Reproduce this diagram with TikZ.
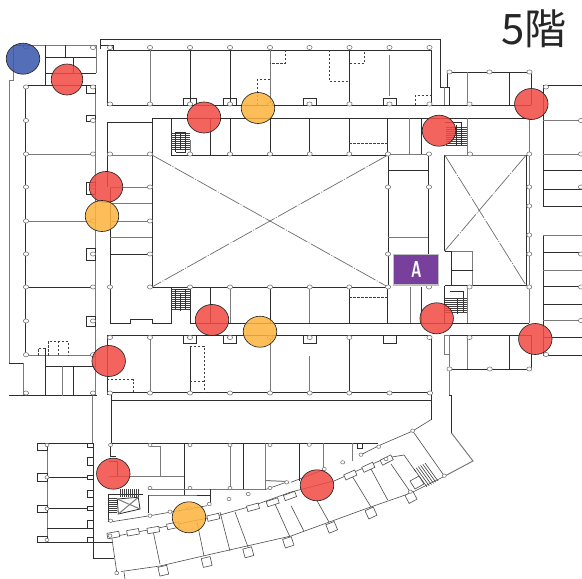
\documentclass[tikz,border=0pt]{standalone}
\usepackage{fontspec}
\usepackage[dvipsnames]{xcolor}
\usetikzlibrary{shapes.geometric}
\newfontfamily\cjk{Noto Sans CJK JP}
\definecolor{redspot}{HTML}{F04A42}
\definecolor{bluespot}{HTML}{3857AB}
\definecolor{orangespot}{HTML}{FDB33E}
\definecolor{roomA}{HTML}{783F9C}
\tikzset{
    wall/.style={line width=.8pt,draw=black!82},
    partition/.style={line width=1pt,draw=black!52},
    hidden/.style={line width=.65pt,draw=black!75,dash pattern=on 2.4pt off 1.6pt},
    void/.style={line width=.7pt,draw=black!58,dash pattern=on 22pt off 1.5pt on 1pt off 1.5pt},
    thin wall/.style={line width=.6pt,draw=black!70},
    tread/.style={line width=.6pt,draw=black!75},
    column/.style={line width=.55pt,draw=black!55,fill=white},
    spot/.style={ellipse,draw=black!85,line width=.65pt,inner sep=0pt,minimum width=33.5pt,minimum height=31pt,fill opacity=.86},
    pilaster/.style={rectangle,draw=black!70,line width=.6pt,fill=white,inner sep=0pt}
}
\begin{document}
\begin{tikzpicture}[x=1pt,y=-1pt]
    \useasboundingbox (0,0) rectangle (582,579);

    % north block
    \draw[wall] (100,49) -- (100,39.5) -- (440,39.5) -- (440,87) -- (449,87) -- (449,105);
    \draw[partition] (444.5,87) -- (444.5,105);
    \draw[wall] (100,45) -- (113,45) -- (113,50);
    \draw[wall] (431,105) -- (431,50) -- (107,50) -- (107,105) -- (531,105);
    \foreach \x in {190,230,349.5}
        \draw[wall] (\x,50) -- (\x,105);
    \foreach \x in {150,270}
        \draw[partition] (\x,50) -- (\x,105);
    \draw[partition] (389.5,55) -- (389.5,96);
    \foreach \x in {183.5,223.5,303.5,383.5}
        \draw[wall] (\x,105) rectangle (\x+13,98.5);
    \draw[hidden] (285,50) -- (285,63.5) -- (270,63.5);
    \draw[hidden] (270,79.5) -- (257,79.5) -- (257,105);
    \draw[hidden] (329.5,50) -- (329.5,81.5) -- (349.5,81.5);
    \draw[hidden] (349.5,63) -- (364.5,63) -- (364.5,50);
    \draw[hidden] (415,105) -- (415,95.5) -- (431,95.5);

    % north-east rooms
    \draw[wall] (447,87) -- (447,72) -- (531,72) -- (531,105);
    \draw[partition] (467,72) -- (467,105);
    \draw[wall] (509.5,72) -- (509.5,105);

    % corridor south wall, north rooms
    \draw[wall] (152,155) -- (152,118) -- (171,118) -- (171,155) -- (388,155);
    \draw[wall] (171,118) -- (529,118);
    \draw[partition] (529.3,118) -- (529.3,323);
    \foreach \x in {230,270,309.7,349.3,387.7}
        \draw[wall] (\x,118) -- (\x,155);
    \draw[wall] (210,118) -- (210,155);
    \draw[partition] (190,140) -- (190,155);
    \draw[partition] (409,118) -- (409,154);
    \draw[wall] (421,118) -- (421,154);
    \draw[partition] (467,118) -- (467,155);
    \draw[hidden] (349.3,143.5) -- (387.7,143.5);
    \draw[partition] (444.7,155) -- (529,155);

    % atria
    \draw[wall] (152,155) -- (152,287) -- (388,287) -- (388,155);
    \draw[void] (152,155) -- (388,287);
    \draw[void] (388,155) -- (152,287);
    \draw[wall] (444.7,251) -- (444.7,155);
    \draw[wall] (526.3,155) -- (526.3,285.7) -- (444.7,285.7);
    \draw[void] (444.7,155) -- (526.3,285.7);
    \draw[void] (526.3,155) -- (444.7,251);
    \draw[partition] (444.7,251) -- (472.7,251) -- (472.7,285.7);
    \draw[wall] (444.7,251) -- (451.3,251) -- (451.3,285.7);
    \draw[wall] (451.3,270) -- (472.7,270);
    \draw[partition] (388,154.5) -- (428.3,154.5);
    \draw[wall] (428.3,154.5) -- (428.3,287);
    \draw[wall] (388,170.5) -- (428.3,170.5);
    \draw[partition] (388,237.5) -- (428.3,237.5);

    % west wing
    \draw[partition] (9,363) -- (9,80) -- (13,80) -- (13,45) -- (96,45) -- (96,73);
    \draw[wall] (45,45) -- (45,85);
    \draw[wall] (45,57.3) -- (96,57.3);
    \draw[wall] (65,45) -- (65,57.3);
    \draw[wall] (73.5,57.3) -- (73.5,73);
    \draw[wall] (45,73) -- (96,73);
    \draw[wall] (25.3,355.5) -- (25.3,85) -- (95,85);
    \draw[partition] (95,85) -- (95,395);
    \foreach \y in {154,221}
        \draw[partition] (25.3,\y) -- (95,\y);
    \draw[wall] (25.3,287) -- (95,287);
    \draw[partition] (25.3,355.5) -- (95,355.5);
    \foreach \y/\h in {85/8,115/6,182/12,248/12,316/10}
        \draw[wall] (86,\y) rectangle (95,\y+\h);
    \draw[wall] (9,363) -- (23,363);
    \draw[partition] (23,363) -- (23,395);
    \draw[wall] (9,395.7) -- (97,395.7);
    \draw[wall] (45,348) -- (45,395.7);
    \draw[wall] (45,366) -- (95,366);
    \draw[partition] (62.5,366) -- (62.5,395.7);
    \draw[wall] (73,366) -- (73,395.7);
    \draw[hidden] (38,355.5) -- (38,348) -- (45,348);
    \draw[hidden] (48,355.5) -- (48,341) -- (68,341) -- (68,355.5);
    \draw[hidden] (58.5,341) -- (58.5,355.5);

    % west side rooms of the atrium
    \draw[wall] (152,122) -- (107,122) -- (107,187);
    \draw[partition] (107,155.5) -- (152,155.5);
    \draw[wall] (110,187) -- (110,323.3) -- (130,323.3) -- (130,319) -- (152,319) -- (152,323.3) -- (171,323.3) -- (171,287);
    \draw[partition] (110,187) -- (152,187);
    \draw[partition] (110,203.5) -- (152,203.5);
    \draw[partition] (110,221) -- (152,221);
    \draw[partition] (110,237.5) -- (152,237.5);
    \draw[wall] (110,254.5) -- (152,254.5);

    % central corridor, south side
    \draw[wall] (190,287) -- (190,323.3) -- (529,323.3);
    \foreach \x in {210,270,349.3,387.7}
        \draw[wall] (\x,287) -- (\x,323.3);
    \foreach \x in {230,309.7,410}
        \draw[partition] (\x,287) -- (\x,323.3);
    \draw[wall] (421,287) -- (421,323.3);
    \draw[wall] (444.7,285.7) -- (444.7,323.3);
    \draw[partition] (467,285.7) -- (467,323.3);
    \draw[hidden] (349.3,297.7) -- (387.7,297.7);

    % south block
    \draw[wall] (107,395) -- (107,335.5) -- (431,335.5);
    \draw[wall] (107,392.3) -- (431,392.3);
    \draw[wall] (111.5,392.3) -- (111.5,443.3);
    \draw[wall] (111.5,400) -- (431,400);
    \draw[wall] (431,335.5) -- (431,419.7);
    \foreach \x in {150,270}
        \draw[partition] (\x,335.5) -- (\x,392.3);
    \draw[wall] (190,346) -- (190,392.3);
    \draw[wall] (349.3,335.5) -- (349.3,392.3);
    \draw[partition] (309.7,356) -- (309.7,392.3);
    \foreach \x in {183.5,223.5,303.5,383.5}
        \draw[wall] (\x,335.5) rectangle (\x+13,343);
    \draw[hidden] (190,346) -- (204,346) -- (204,392.3);
    \draw[hidden] (190,381) -- (204,381);
    \draw[hidden] (107,379.5) -- (133,379.5) -- (133,392.3);
    \draw[partition] (92,395.7) -- (92,443.3);

    % south-east rooms
    \draw[wall] (444.7,335.5) -- (531,335.5) -- (531,369) -- (449,369);
    \draw[partition] (444.7,335.5) rectangle (449.7,354);
    \draw[partition] (449,354) -- (449,369);
    \draw[partition] (467,335.5) -- (467,369);
    \draw[wall] (509.3,335.5) -- (509.3,369);
    \draw[partition] (449,369) -- (449,395.7);
    \draw[wall] (449,395.7) -- (451.5,395.7) -- (451.5,433);
    \draw[partition] (451.5,433) -- (473,461) -- (444.3,476.3);

    % east wing
    \draw[wall] (582,85.5) -- (543.3,85.5) -- (543.3,206.5) -- (582,206.5);
    \draw[partition] (543.3,120) -- (582,120);
    \draw[partition] (543.3,154) -- (582,154);
    \draw[wall] (543.3,170.5) -- (582,170.5);
    \draw[wall] (543.3,189.5) -- (582,189.5);
    \draw[wall] (582,235) -- (543.3,235) -- (543.3,355) -- (582,355);
    \draw[partition] (543.3,235) -- (582,235);
    \draw[wall] (543.3,252.3) -- (582,252.3);
    \draw[partition] (543.3,270) -- (582,270);
    \draw[wall] (543.3,286.5) -- (582,286.5);
    \draw[wall] (543.3,304) -- (582,304);
    \draw[partition] (543.3,320.7) -- (582,320.7);
    \draw[wall] (543.3,337.3) -- (582,337.3);

    % curved wing
    \draw[thin wall] (431,419.7) -- (412.7,431) -- (378.7,445.7) -- (361,454.7);
    \draw[thin wall] (444.3,476.3) -- (411,493) -- (365,509) -- (291,536) -- (203,556) -- (160,566) -- (121,571.5);
    \draw[thin wall] (111.7,537) -- (153,529) -- (213,517) -- (253,505.7) -- (291,492) -- (334,481) -- (386,458) -- (404,455);
    \draw[thin wall] (110,522) -- (150,515.7) -- (207,505.7);
    \draw[thin wall] (265,489.7) -- (287,482);
    \draw[thin wall] (291,482.3) -- (324,469.5);
    \foreach \xa/\ya/\xb/\yb in {111.7/537/116.7/572,153/530.7/160/564,197/522/204/556,220/512/230/551,235/512/248/547,275/504/290/537,291/505.7/303.7/530.7,317/500.7/329/522,352.7/477/371/507,371/469/387.7/500,391/464/411/493,404/455/416/472,412.7/431/444.3/476,124/572/125/579}
        \draw[thin wall] (\xa,\ya) -- (\xb,\yb);
    \foreach \x/\y/\a in {163.3/570.7/13,206.7/562/13,248.3/552.3/15,288.3/542.3/18,331.7/527.3/22,371/513/25,411/497.3/28}
        \node[pilaster,minimum width=9pt,minimum height=9pt,rotate=\a] at (\x,\y) {};
    \foreach \x/\y/\a in {113.3/535/10,133/532.3/10,153.3/530/10,173/525.7/12,213.3/517.3/13,253/507.3/15,272.7/502.3/18,290/496/20,350.3/475/24,368.3/467.3/25,386.7/460/27}
        \node[pilaster,minimum width=12pt,minimum height=5.5pt,rotate=\a] at (\x,\y) {};

    % south-west block
    \draw[wall] (37,443.3) -- (93.3,443.3);
    \draw[partition] (47,443.3) -- (47,542.3);
    \draw[wall] (37,542.3) -- (111.5,542.3);
    \draw[wall] (47,477.3) -- (87,477.3);
    \draw[wall] (47,508.5) -- (87,508.5);
    \draw[wall] (47,528) -- (87,528);
    \draw[wall] (93.3,443.3) -- (93.3,558.3) -- (114,558.3);
    \foreach \y/\h in {443.3/7,473/8.3,505/7.3,536/6.3}
        \draw[wall] (37,\y) rectangle (47,\y+\h);
    \foreach \y/\h in {443.3/4,457.3/7.7,475/4,490/7.7,506.3/4,520.7/8,537/5}
        \draw[wall] (87,\y) rectangle (93.3,\y+\h);

    % south centre
    \draw[wall] (111.5,443.3) -- (378,443.3);
    \draw[wall] (110,443.3) -- (110,456) -- (116,456);
    \draw[wall] (108.7,461) -- (117,461) -- (117,476);
    \draw[partition] (150,446) -- (160,446) -- (160,476);
    \draw[partition] (108.7,476) -- (184.3,476);
    \draw[wall] (184.3,443.3) -- (184.3,495);
    \draw[partition] (230,443.3) -- (230,489);
    \draw[wall] (243.7,443.3) -- (243.7,489);
    \draw[partition] (265,443.3) -- (265,489);
    \draw[partition] (148,489) -- (265,489);
    \draw[wall] (148,495) -- (184.3,495) -- (210,495);
    \draw[wall] (210,489) -- (210,504);
    \draw[wall] (148,495) -- (148,513);
    \draw[wall] (108.7,494) -- (143.3,494);
    \draw[wall] (108.7,494) -- (108.7,522);
    \draw[partition] (265,480.5) -- (287,481.5);
    \draw[wall] (299.3,443.3) -- (299.3,480.7);
    \draw[partition] (323,443.3) -- (323,469);
    \draw[partition] (352,443.3) -- (352,461.3);
    \draw[wall] (357.5,443.3) rectangle (362.5,448);

    % stairs
    \foreach \y in {133,135,...,149}
        \draw[tread] (171,\y) -- (190,\y);
    \foreach \y in {289,291,...,309}
        \draw[tread] (171,\y) -- (190,\y);
    \foreach \y in {127,129,...,145}
        \draw[tread] (446,\y) -- (467,\y);
    \foreach \y in {498,500,...,512}
        \draw[tread] (108.7,\y) -- (117.3,\y);
    \foreach \x in {120,122,...,138}
        \draw[tread] (\x,489) -- (\x,497);
    \draw[wall] (175.5,152) -- (175.5,132) -- (185.5,132) -- (185.5,152) -- (175.5,152);
    \draw[wall] (180.5,134) -- (180.5,150);
    \draw[wall] (175.5,309) -- (175.5,289) -- (185.5,289) -- (185.5,309);
    \draw[wall] (180.5,293) -- (180.5,311);
    \draw[wall] (444.7,122) -- (461.5,122) -- (461.5,145);
    \draw[wall] (456,125) -- (456,146);
    \draw[wall] (450,291) -- (463,291) -- (463,312);
    \draw[wall] (457.5,298) -- (457.5,314);
    \foreach \y in {298,300,...,312}
        \draw[tread] (445,\y) -- (467,\y);
    \draw[wall] (117.3,499) -- (138.3,497.3) -- (140,509) -- (118.3,514) -- cycle;
    \draw[partition] (117.3,499) -- (140,509);
    \draw[partition] (138.3,497.3) -- (118.3,514);
    \foreach \i in {0,...,5}
        \draw[tread] (414+\i*2.2,469-\i*1.2) -- (427+\i*2.2,487-\i*1.2);
    \draw[thin wall] (410,481) -- (419,476) -- (424,484) -- (415,489) -- cycle;

    % columns
    \foreach \x in {110,150,190,230,270,309.5,349.5,389.5,429.5}
        \draw[column] (\x,47.5) ellipse (2.6 and 2.1);
    \foreach \x in {110,150,190,230,270,309.5,349.5,389.5,429.5,469.5}
        \draw[column] (\x,104) ellipse (2.6 and 2.1);
    \foreach \x in {110,150,190,230,270,309.7,349.3,388,429,470,529.3}
        \draw[column] (\x,154) ellipse (2.6 and 2.1);
    \foreach \x in {110,150,190,230,270,309.7,349.3,388,429,469.5,529.3}
        \draw[column] (\x,287) ellipse (2.6 and 2.1);
    \foreach \x in {110,150,190,230,270,309.7,349.3,429.5,469.5}
        \draw[column] (\x,337.5) ellipse (2.6 and 2.1);
    \foreach \x in {110,150,190,230,270,309.7,349.3,389.5,430}
        \draw[column] (\x,393) ellipse (2.6 and 2.1);
    \foreach \y in {87,120.5,154,187,221,254,287,321,354.7} {
        \draw[column] (26,\y) ellipse (2.6 and 2.1);
        \draw[column] (93,\y) ellipse (2.6 and 2.1);
    }
    \foreach \y in {187,221,254}
        \draw[column] (150,\y) ellipse (2.6 and 2.1);
    \foreach \x/\y in {26/47,93/47.5,26/393,93/393,388/187,429/187,388/254,529.3/187,529.3/206,529.3/235,529.3/254,449.5/72,489.5/72,529.5/72,449.5/369,489.7/369,529.3/369,546/87,546/354.5,581/120.5,581/154,581/187,581/254,581/287,581/320.5}
        \draw[column] (\x,\y) ellipse (2.6 and 2.1);
    \foreach \x in {150,190,230,270}
        \draw[column] (\x,445) ellipse (2 and 1.7);
    \foreach \x in {150,190,230,270}
        \draw[column] (\x,488) ellipse (2 and 1.7);
    \foreach \x/\y in {110.5/445,309.3/444.7,248.3/494,229/499,209.3/504,170/511.7,150/515.7,110.7/520.7,110/535.7,116.7/573,189.3/508.3,286.7/482.3,342.7/462.3,324.3/469,361/454.7,378.7/446.7,412.7/430.7,386/459,444.3/475.7,410.3/491.7,47/445,47/477.3,47/508.7,47/540}
        \draw[column] (\x,\y) ellipse (2 and 1.7);

    % markers
    \node[spot,fill=bluespot] (blue1) at (23,58.7) {};
    \node[spot,fill=redspot,minimum width=31.5pt] (red1) at (67,79.5) {};
    \node[spot,fill=redspot] (red2) at (204,117.5) {};
    \node[spot,fill=orangespot] (orange1) at (258,108) {};
    \node[spot,fill=redspot] (red3) at (106,187) {};
    \node[spot,fill=orangespot] (orange2) at (102,216) {};
    \node[spot,fill=redspot] (red4) at (439,130.7) {};
    \node[spot,fill=redspot] (red5) at (531.3,104) {};
    \node[spot,fill=redspot] (red6) at (212,320) {};
    \node[spot,fill=orangespot] (orange3) at (260,331.7) {};
    \node[spot,fill=redspot] (red7) at (108.7,361) {};
    \node[spot,fill=redspot] (red8) at (113.3,473.7) {};
    \node[spot,fill=orangespot] (orange4) at (189,517.3) {};
    \node[spot,fill=redspot] (red9) at (436.7,318.3) {};
    \node[spot,fill=redspot] (red10) at (535.3,339) {};
    \node[spot,fill=redspot] (red11) at (317,485.3) {};

    % room label and title
    \node[rectangle,draw=black!25,line width=1.2pt,fill=roomA,minimum width=45pt,minimum height=30.5pt,inner sep=0pt] (roomA) at (416.3,269.7) {};
    \node[text=white,font=\sffamily\bfseries\fontsize{23}{23}\selectfont,xscale=.62,inner sep=0pt] (labelA) at (roomA) {A};
    \node[font=\cjk\fontsize{42}{42}\selectfont,text=black!85,inner sep=0pt] (title) at (534,29) {5階};
\end{tikzpicture}
\end{document}
